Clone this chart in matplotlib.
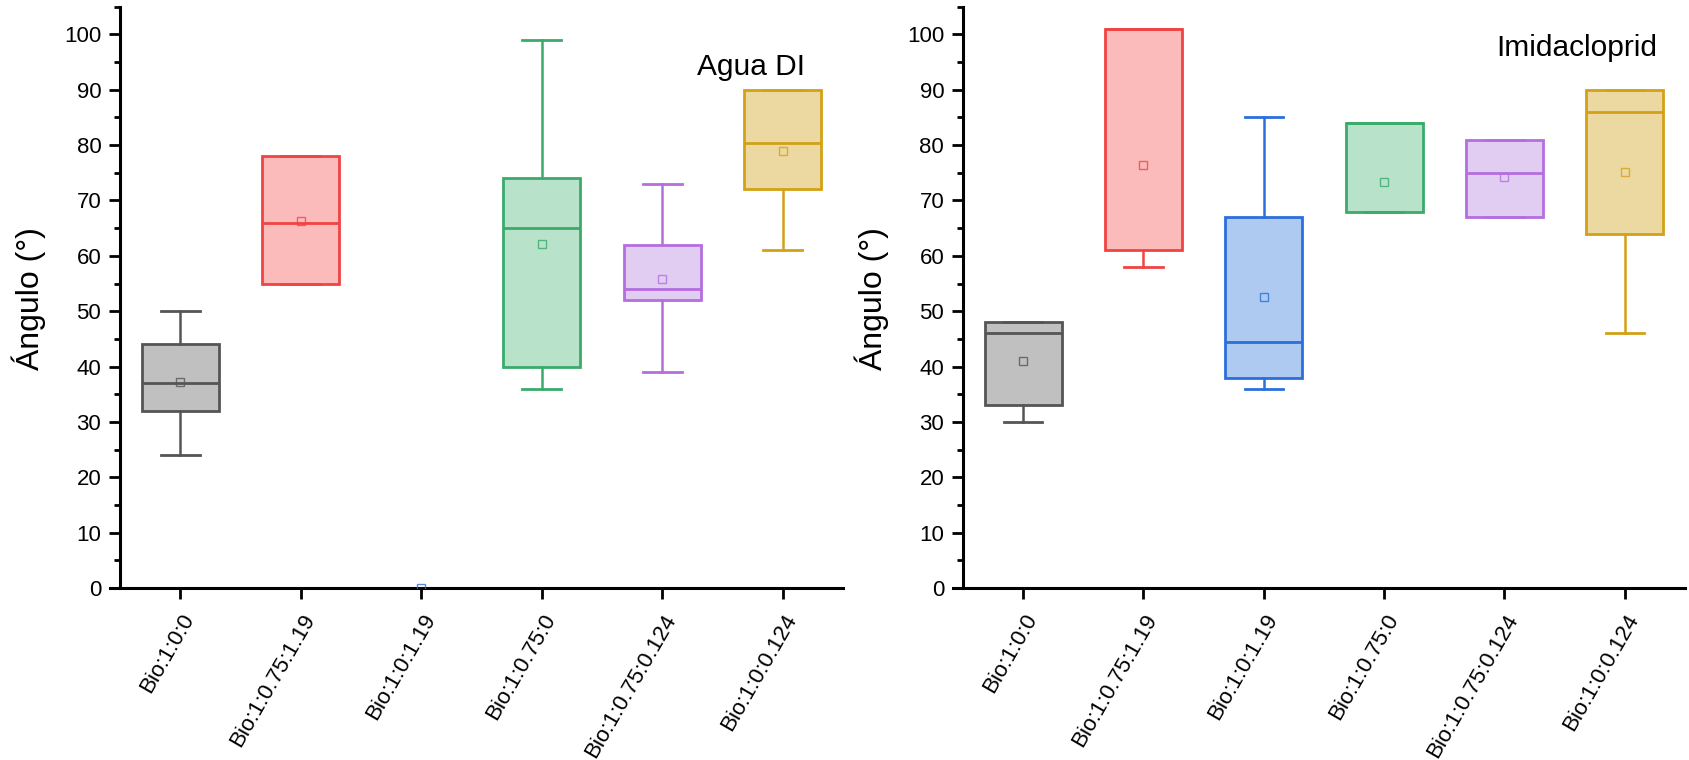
import matplotlib
matplotlib.use('Agg')
import matplotlib.pyplot as plt
from matplotlib.ticker import MultipleLocator

plt.rcParams['font.family'] = ['Liberation Sans', 'DejaVu Sans']

# datos
labels = ['Bio:1:0:0', 'Bio:1:0.75:1.19', 'Bio:1:0:1.19', 'Bio:1:0.75:0',
          'Bio:1:0.75:0.124', 'Bio:1:0:0.124']

# Agua DI (Bio:1:0:1.19 solo tiene la media en 0)
agua_whislo = [24, 55, None, 36, 39, 61]
agua_q1 = [32, 55, None, 40, 52, 72]
agua_med = [37, 66, None, 65, 54, 80.4]
agua_q3 = [44, 78, None, 74, 62, 90]
agua_whishi = [50, 78, None, 99, 73, 90]
agua_mean = [37.3, 66.3, 0, 62.2, 55.9, 79.0]

# Imidacloprid
imid_whislo = [30, 58, 36, 68, 67, 46]
imid_q1 = [33, 61, 38, 68, 67, 64]
imid_med = [46, 101, 44.5, 84, 75, 86]
imid_q3 = [48, 101, 67, 84, 81, 90]
imid_whishi = [48, 101, 85, 84, 81, 90]
imid_mean = [41.0, 76.4, 52.5, 73.4, 74.2, 75.2]

edge_colors = ['#555555', '#f04444', '#2a6fdb', '#3aab6b', '#b46ee0', '#d4a017']
fill_colors = ['#c0c0c0', '#fbbbbb', '#aecaf1', '#b8e2ca', '#e2cdf2', '#ecd9a1']

fig = plt.figure(figsize=(16.9, 7.6), dpi=100)
ax1 = fig.add_axes([0.0651, 0.2263, 0.4337, 0.7649])
ax2 = fig.add_axes([0.5639, 0.2263, 0.4331, 0.7649])


def draw_panel(ax, whislo, q1, med, q3, whishi, mean, title, title_x, title_y):
    for i in range(len(labels)):
        pos = i + 1
        c = edge_colors[i]
        if q1[i] is not None:
            st = {'whislo': whislo[i], 'q1': q1[i], 'med': med[i],
                  'q3': q3[i], 'whishi': whishi[i], 'fliers': []}
            ax.bxp([st], positions=[pos], widths=0.64, capwidths=0.32,
                   patch_artist=True, showfliers=False, manage_ticks=False,
                   boxprops=dict(facecolor=fill_colors[i], edgecolor=c, linewidth=2),
                   medianprops=dict(color=c, linewidth=2),
                   whiskerprops=dict(color=c, linewidth=1.8),
                   capprops=dict(color=c, linewidth=2))
        ax.plot(pos, mean[i], marker='s', markersize=6, markerfacecolor='none',
                markeredgecolor=c, markeredgewidth=1, alpha=0.8, zorder=5)

    ax.set_xlim(0.417, 6.5)
    ax.set_ylim(0, 105)
    # el eje x sobresale un poco a la izquierda del eje y
    ax.spines['left'].set_position(('data', 0.5))
    ax.spines['top'].set_visible(False)
    ax.spines['right'].set_visible(False)
    for s in ['left', 'bottom']:
        ax.spines[s].set_linewidth(2.2)
    ax.yaxis.set_major_locator(MultipleLocator(10))
    ax.yaxis.set_minor_locator(MultipleLocator(5))
    ax.tick_params(axis='both', which='major', direction='out', length=8,
                   width=2, labelsize=16)
    ax.tick_params(axis='x', pad=8)
    ax.tick_params(axis='y', which='major', pad=5.5)
    ax.tick_params(axis='y', which='minor', direction='out', length=4, width=2)
    ax.set_xticks(range(1, len(labels) + 1))
    ax.set_xticklabels(labels, rotation=60, ha='right', va='top',
                       rotation_mode='anchor', fontsize=16)
    ax.set_ylabel('Ángulo (°)', fontsize=23)
    ax.yaxis.set_label_coords(-0.088, 0.498)
    ax.text(title_x, title_y, title, transform=ax.transAxes, fontsize=21.5,
            ha='right', va='baseline')


draw_panel(ax1, agua_whislo, agua_q1, agua_med, agua_q3, agua_whishi, agua_mean,
           'Agua DI', 0.948, 0.8825)
draw_panel(ax2, imid_whislo, imid_q1, imid_med, imid_q3, imid_whishi, imid_mean,
           'Imidacloprid', 0.962, 0.915)

fig.savefig('out.png', dpi=100)
